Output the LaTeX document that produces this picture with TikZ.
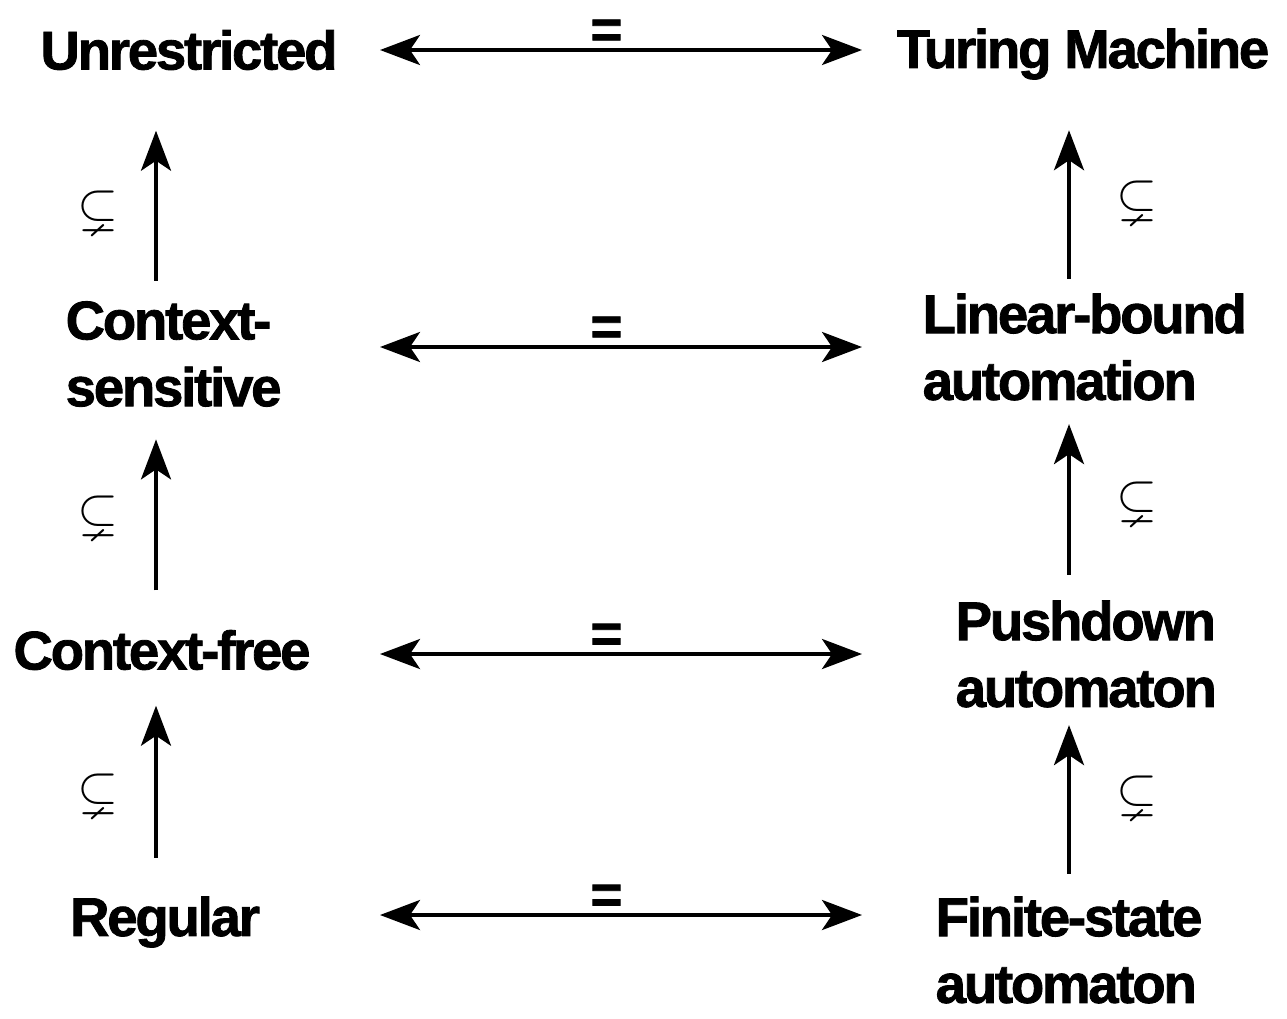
\documentclass[tikz,border=0pt]{standalone}
\usepackage{amsmath}
\usepackage{amssymb}
\usepackage{fontspec}
\newfontfamily\classfont{Liberation Sans}[LetterSpace=-4,BoldFeatures={FakeBold=1.5}]
\usetikzlibrary{arrows.meta}
\usetikzlibrary{calc}

\tikzset{
	class/.style={font=\classfont\bfseries\fontsize{15.5}{19}\selectfont, inner sep=0pt, align=left},
	eqsign/.style={font=\classfont\bfseries\fontsize{15.5}{19}\selectfont, inner sep=0pt},
	subs/.style={font=\fontsize{15}{17}\selectfont, inner sep=0pt},
	equiv/.style={{Stealth[length=4mm, width=3mm, inset=1mm]}-{Stealth[length=4mm, width=3mm, inset=1mm]}, line width=1.1pt},
	incl/.style={-{Stealth[length=4mm, width=3mm, inset=1mm]}, line width=1.1pt}
}

\begin{document}
\begin{tikzpicture}[x=0.1mm, y=-0.1mm]
	\useasboundingbox (0, 0) rectangle (1287, 1018);

	% grammars
	\node[class] (unr) at (189, 50) {Unrestricted};
	\node[class, anchor=west] (cs) at (65, 354) {Context-\\sensitive};
	\node[class] (cf) at (162, 650) {Context-free};
	\node[class] (reg) at (165, 922) {Regular};

	% machines
	\node[class] (tm) at (1083, 54) {Turing Machine};
	\node[class, anchor=west] (lb) at (922, 347) {Linear-bound\\automation};
	\node[class, anchor=west] (pd) at (955, 654) {Pushdown\\automaton};
	\node[class, anchor=west] (fs) at (935, 950) {Finite-state\\automaton};

	\coordinate (lend) at (380, 0);
	\coordinate (rend) at (862, 0);
	\coordinate (lcol) at (156, 0);
	\coordinate (rcol) at (1069, 0);

	% equivalences
	\draw[equiv] (lend |- unr) -- (rend |- unr) node[eqsign, pos=0.47, above=0pt] {=};
	\draw[equiv] (lend |- lb) -- (rend |- lb) node[eqsign, pos=0.47, above=0pt] {=};
	\draw[equiv] (lend |- pd) -- (rend |- pd) node[eqsign, pos=0.47, above=0pt] {=};
	\draw[equiv, transform canvas={yshift=0.7mm}] (lend |- reg) -- (rend |- reg) node[eqsign, pos=0.47, above=0pt] {=};

	% inclusions
	\draw[incl, shorten <=2mm, shorten >=6mm] (lcol |- cs.north) -- (lcol |- unr.south) node[subs, pos=0.39, left=3.6mm] {$\subsetneq$};
	\draw[incl, shorten <=3.9mm, shorten >=3.2mm] (lcol |- cf.north) -- (lcol |- cs.south) node[subs, pos=0.51, left=3.6mm] {$\subsetneq$};
	\draw[incl, shorten <=3.8mm, shorten >=3.5mm] (lcol |- reg.north) -- (lcol |- cf.south) node[subs, pos=0.45, left=3.6mm] {$\subsetneq$};
	\draw[incl, shorten <=1.4mm, shorten >=5mm] (rcol |- lb.north) -- (rcol |- tm.south) node[subs, pos=0.43, right=4.6mm] {$\subsetneq$};
	\draw[incl, shorten <=2.5mm, shorten >=2.3mm] (rcol |- pd.north) -- (rcol |- lb.south) node[subs, pos=0.49, right=4.6mm] {$\subsetneq$};
	\draw[incl, shorten <=2.2mm, shorten >=1.7mm] (rcol |- fs.north) -- (rcol |- pd.south) node[subs, pos=0.53, right=4.6mm] {$\subsetneq$};
\end{tikzpicture}
\end{document}
